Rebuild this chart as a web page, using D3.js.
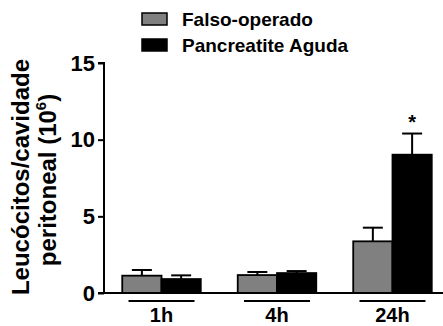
<!DOCTYPE html>
<html><head><meta charset="utf-8">
<script src="https://cdn.jsdelivr.net/npm/d3@7"></script>
<style>body{margin:0;background:#fff}svg{display:block}text{font-family:"Liberation Sans",Arial,sans-serif;font-weight:bold}</style>
</head><body>
<script>
const groups = ["1h", "4h", "24h"];
const seriesNames = ["Falso-operado", "Pancreatite Aguda"];
const seriesColors = ["#808080", "#000000"];
const shamValues = [1.13, 1.17, 3.37];
const shamErrors = [0.37, 0.20, 0.89];
const pancValues = [0.91, 1.30, 9.02];
const pancErrors = [0.24, 0.13, 1.38];
const yTicks = [0, 5, 10, 15];
const significant = [false, false, true];

const W = 443, H = 326;
const svg = d3.select("body").append("svg").attr("width", W).attr("height", H);

const y = d3.scaleLinear().domain([0, 15]).range([293, 63]);
const x = d3.scaleBand().domain(groups).range([104, 450]).paddingInner(0.32).paddingOuter(0.158);
const xs = d3.scaleBand().domain([0, 1]).range([0, x.bandwidth()]);

const data = [];
groups.forEach((g, i) => {
  data.push({g, s: 0, v: shamValues[i], e: shamErrors[i]});
  data.push({g, s: 1, v: pancValues[i], e: pancErrors[i]});
});

// error bars (up only)
const eb = svg.append("g").attr("stroke", "#000").attr("stroke-width", 2);
data.forEach(d => {
  const cx = x(d.g) + xs(d.s) + xs.bandwidth() / 2;
  eb.append("line").attr("x1", cx).attr("x2", cx).attr("y1", y(d.v)).attr("y2", y(d.v + d.e));
  eb.append("line").attr("x1", cx - 10).attr("x2", cx + 10).attr("y1", y(d.v + d.e)).attr("y2", y(d.v + d.e));
});

// bars
svg.append("g").selectAll("rect").data(data).join("rect")
  .attr("x", d => x(d.g) + xs(d.s))
  .attr("width", xs.bandwidth())
  .attr("y", d => y(d.v))
  .attr("height", d => y(0) - y(d.v))
  .attr("fill", d => seriesColors[d.s])
  .attr("stroke", "#000").attr("stroke-width", 1.8);

// y axis
const yAxis = d3.axisLeft(y).tickValues(yTicks).tickSize(6).tickPadding(3);
const ya = svg.append("g").attr("transform", "translate(104,0)").call(yAxis);
ya.select(".domain").attr("stroke-width", 2).attr("d", "M-6,63H0V293");
ya.selectAll(".tick line").attr("stroke-width", 2);
ya.selectAll(".tick text").attr("font-size", 22).attr("font-family", "Liberation Sans, Arial, sans-serif").attr("font-weight", "bold").attr("fill", "#000");

// x axis baseline
svg.append("line").attr("x1", 98).attr("x2", 443).attr("y1", y(0)).attr("y2", y(0))
  .attr("stroke", "#000").attr("stroke-width", 2);

// group underlines and labels
groups.forEach(g => {
  const cx = x(g) + x.bandwidth() / 2;
  svg.append("line").attr("x1", cx - 33).attr("x2", cx + 33).attr("y1", 301).attr("y2", 301)
    .attr("stroke", "#000").attr("stroke-width", 2);
  svg.append("text").attr("x", cx).attr("y", 321.5).attr("text-anchor", "middle")
    .attr("font-size", 20).text(g);
});

// significance asterisk
groups.forEach((g, i) => {
  if (!significant[i]) return;
  const cx = x(g) + xs(1) + xs.bandwidth() / 2;
  svg.append("text").attr("x", cx).attr("y", y(pancValues[i] + pancErrors[i]) - 5)
    .attr("text-anchor", "middle").attr("font-size", 20).text("*");
});

// y title
svg.append("text").attr("transform", "translate(29,177) rotate(-90)")
  .attr("text-anchor", "middle").attr("font-size", 24).text("Leucócitos/cavidade");
const yt2 = svg.append("text").attr("transform", "translate(56,180) rotate(-90)")
  .attr("text-anchor", "middle").attr("font-size", 24);
yt2.append("tspan").text("peritoneal (10");
yt2.append("tspan").attr("font-size", 15).attr("dy", -10).text("6");
yt2.append("tspan").attr("dy", 10).text(")");

// legend
const leg = svg.append("g");
seriesNames.forEach((n, i) => {
  const yy = 13 + i * 26;
  leg.append("rect").attr("x", 142).attr("y", yy).attr("width", 25).attr("height", 12)
    .attr("fill", seriesColors[i]).attr("stroke", "#000").attr("stroke-width", 1.5);
  leg.append("text").attr("x", 182).attr("y", yy + 13).attr("font-size", 19).text(n);
});
</script>
</body></html>
